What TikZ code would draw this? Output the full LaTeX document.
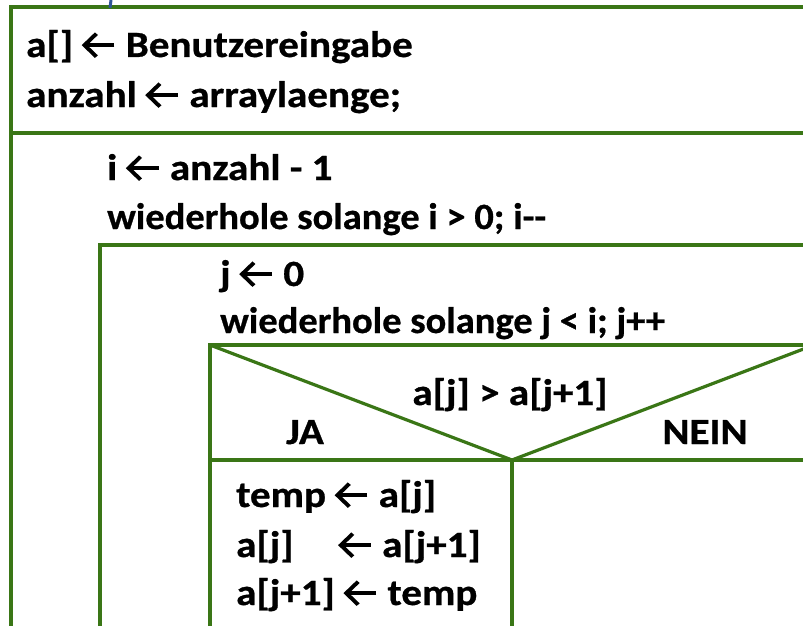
\documentclass[tikz,border=0pt]{standalone}
\usepackage{graphicx}
\usepackage{fontspec}
\setmainfont{Carlito}
\newfontfamily\nsfont{Carlito Bold}[FakeBold=0.7]
\definecolor{nsgreen}{RGB}{58,118,22}
\definecolor{markblue}{RGB}{47,85,151}
% open left arrow used for assignments
\newcommand{\lfarrow}{\tikz[baseline=0pt]{%
  \draw[black,line width=0.1em,line cap=butt] (0.76em,0.32em) -- (0.05em,0.32em);
  \draw[black,line width=0.1em,line join=miter,line cap=butt] (0.32em,0.63em) -- (0.03em,0.32em) -- (0.32em,0.01em);}}
% statement text, slightly widened
\newcommand{\st}[1]{\scalebox{1.11}[1]{#1}}
% loop headers, set a little tighter
\newcommand{\lh}[1]{\scalebox{1.04}[1]{#1}}
\begin{document}
\begin{tikzpicture}[x=1pt,y=-1pt,
  txt/.style={anchor=base west,inner sep=0pt,font=\nsfont\fontsize{37}{44}\selectfont},
  ctxt/.style={anchor=base,inner sep=0pt,font=\nsfont\fontsize{37}{44}\selectfont},
  ns/.style={draw=nsgreen,line width=3.2pt}]
\useasboundingbox (0,0) rectangle (803,626);
\begin{scope}
  \clip (0,0) rectangle (803,626);
  % outer block and first statement
  \draw[ns] (11,7) rectangle (840,700);
  \draw[ns] (11,133) -- (840,133);
  % outer loop body
  \draw[ns] (100,700) |- (840,245);
  % inner loop body / decision
  \draw[ns] (210,700) |- (840,345);
  \draw[ns] (210,460) -- (840,460);
  \draw[ns] (210,345) -- (512,460) -- (814,345);
  \draw[ns] (512,460) -- (512,700);
  % small mark at the top
  \draw[markblue,line width=3pt] (111,0) -- (110,8);
\end{scope}

\node[txt] (s1) at (26,57) {\st{a[] \lfarrow\ Benutzereingabe}};
\node[txt] (s2) at (26,107) {\st{anzahl \lfarrow\ arraylaenge;}};
\node[txt] (l1a) at (107,180) {\st{i \lfarrow\ anzahl - 1}};
\node[txt] (l1b) at (107,229) {\lh{wiederhole solange i > 0; i-{}-}};
\node[txt] (l2a) at (220,286) {\st{j \lfarrow\ 0}};
\node[txt] (l2b) at (220,333) {\lh{wiederhole solange j < i; j++}};
\node[ctxt] (cond) at (510,405) {\st{a[j] > a[j+1]}};
\node[ctxt] (ja) at (305,444) {\st{JA}};
\node[ctxt] (nein) at (705,444) {\st{NEIN}};
\node[txt] (t1) at (236,507) {\st{temp \lfarrow\ a[j]}};
\node[txt] (t2) at (236,557) {\st{a[j]\hspace{1.1em}\lfarrow\ a[j+1]}};
\node[txt] (t3) at (236,605) {\st{a[j+1] \lfarrow\ temp}};
\end{tikzpicture}
\end{document}
